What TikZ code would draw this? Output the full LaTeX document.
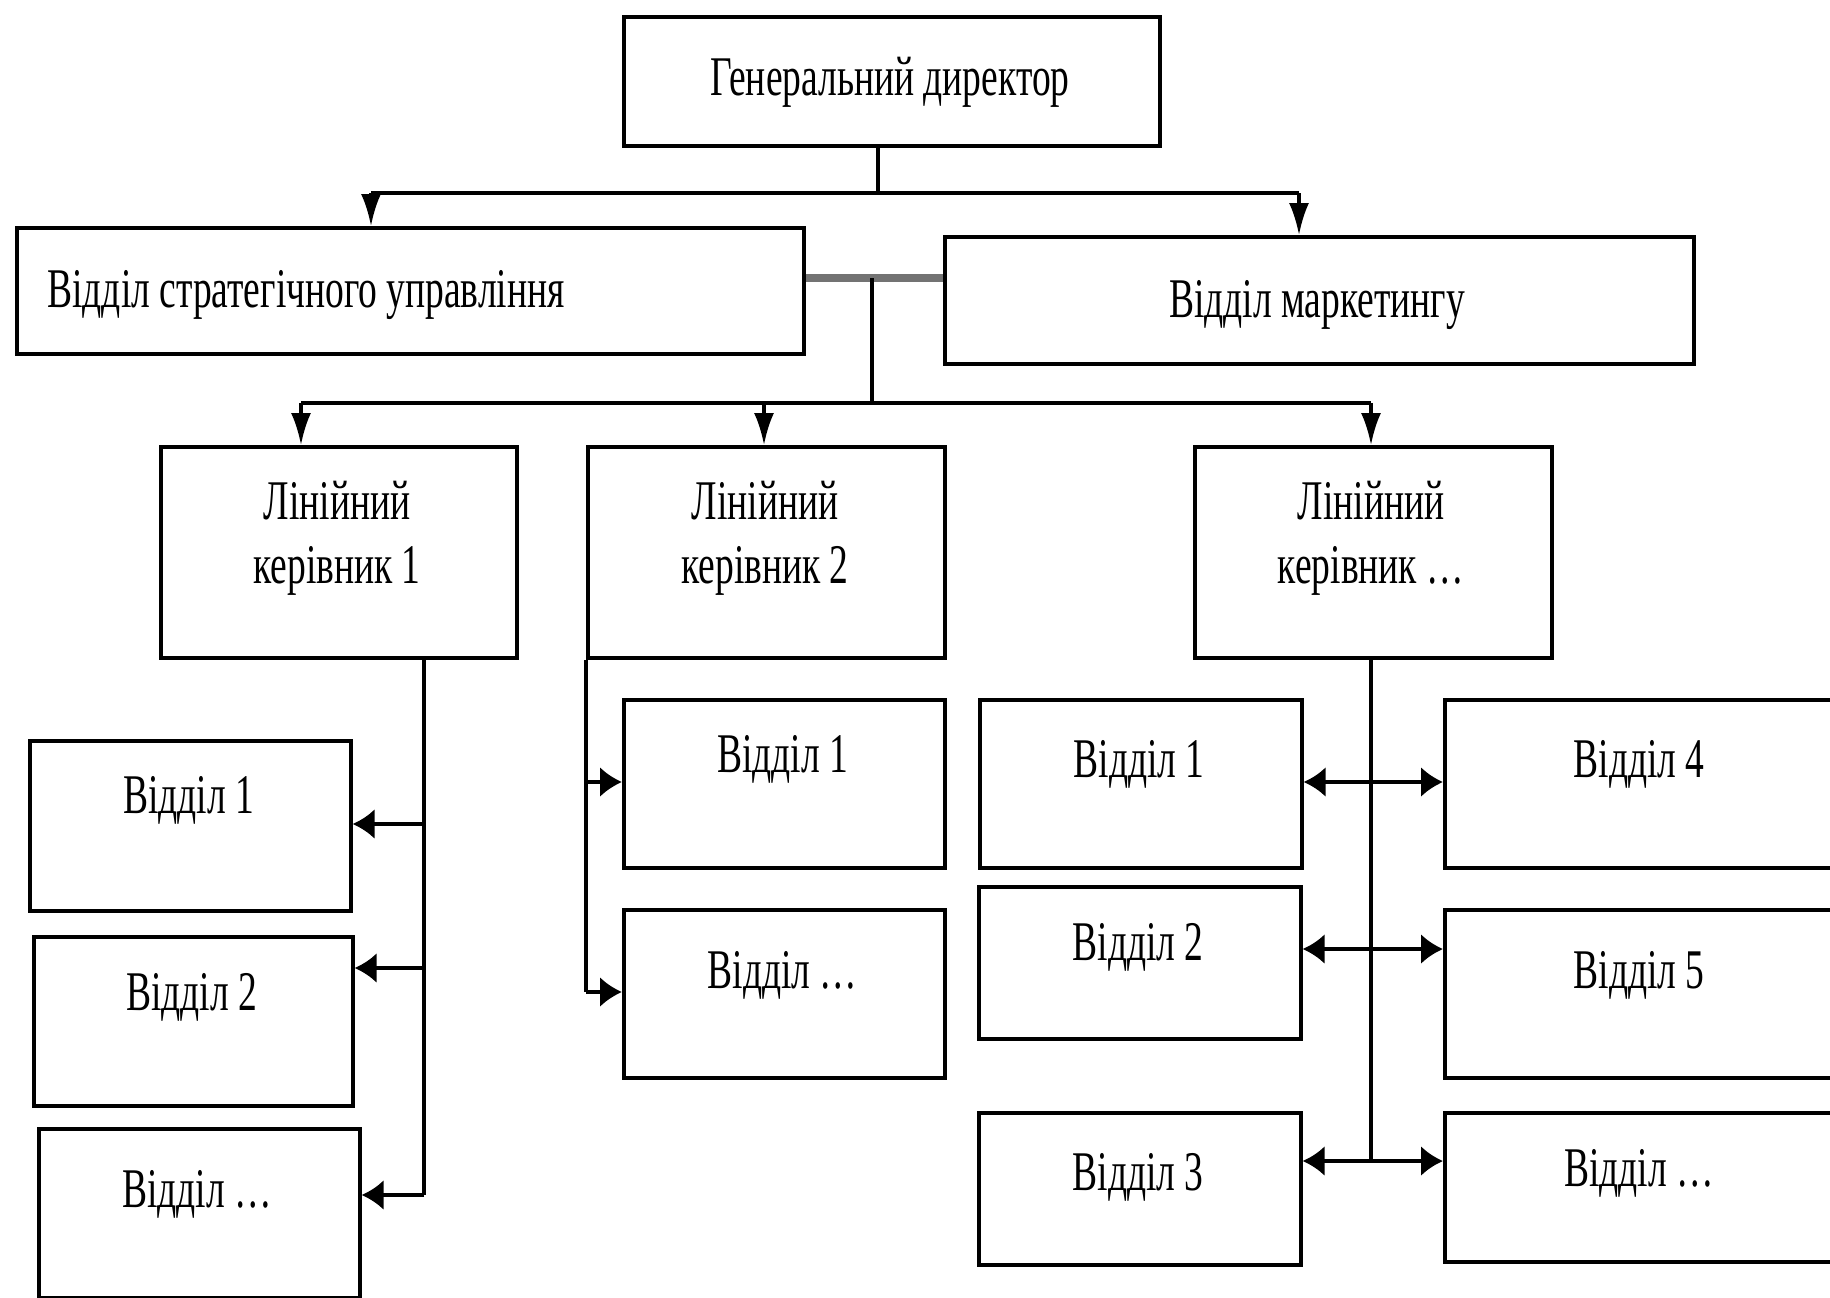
\documentclass[tikz,border=0pt]{standalone}
\usepackage{fontspec}
\setmainfont{Liberation Serif}[FakeStretch=0.67]
\usetikzlibrary{arrows.meta}
\begin{document}
\begin{tikzpicture}[x=0.5pt,y=-0.5pt,
  box/.style={draw=black,line width=1.8pt,fill=white,inner sep=0pt,anchor=north west},
  txt/.style={inner sep=0pt,anchor=base,font=\fontsize{28}{32}\selectfont,align=center},
  conn/.style={draw=black,line width=1.7pt},
  bar/.style={draw=black!55,line width=3.8pt},
  vtip/.tip={Latex[length=16pt,width=10pt]},
  htip/.tip={Latex[length=11pt,width=15pt]}]
\useasboundingbox (0,0) rectangle (1830,1297);
% boxes
\node[box,minimum width=268pt,minimum height=64.5pt] (gd) at (622,15) {};
\node[box,minimum width=393.5pt,minimum height=63pt] (strat) at (15,226) {};
\node[box,minimum width=374.5pt,minimum height=63.5pt] (mark) at (943,235) {};
\node[box,minimum width=178pt,minimum height=105.5pt] (lk1) at (159,445) {};
\node[box,minimum width=178.5pt,minimum height=105.5pt] (lk2) at (586,445) {};
\node[box,minimum width=178.5pt,minimum height=105.5pt] (lk3) at (1193,445) {};
\node[box,minimum width=160.5pt,minimum height=85pt] (a1) at (28,739) {};
\node[box,minimum width=159.5pt,minimum height=84.5pt] (a2) at (32,935) {};
\node[box,minimum width=160.5pt,minimum height=84.5pt] (a3) at (37,1127) {};
\node[box,minimum width=160.5pt,minimum height=84pt] (b1) at (622,698) {};
\node[box,minimum width=160.5pt,minimum height=84pt] (b2) at (622,908) {};
\node[box,minimum width=161pt,minimum height=84pt] (c1) at (978,698) {};
\node[box,minimum width=161pt,minimum height=76pt] (c2) at (977,885) {};
\node[box,minimum width=161pt,minimum height=76pt] (c3) at (977,1111) {};
\node[box,minimum width=196pt,minimum height=84pt] (d1) at (1443,698) {};
\node[box,minimum width=196pt,minimum height=84pt] (d2) at (1443,908) {};
\node[box,minimum width=196pt,minimum height=74.5pt] (d3) at (1443,1111) {};
% texts
\node[txt] (tgd) at (890,95) {Генеральний директор};
\node[txt,anchor=base west] (tstrat) at (47,307) {Відділ стратегічного управління};
\node[txt] (tmark) at (1317,317) {Відділ маркетингу};
\node[txt] (tlk1) at (337,583) {Лінійний\\керівник 1};
\node[txt] (tlk2) at (765,583) {Лінійний\\керівник 2};
\node[txt] (tlk3) at (1371,583) {Лінійний\\керівник …};
\node[txt] (ta1) at (188.5,813) {Відділ 1};
\node[txt] (ta2) at (191.5,1010) {Відділ 2};
\node[txt] (ta3) at (197,1207) {Відділ …};
\node[txt] (tb1) at (782.5,772) {Відділ 1};
\node[txt] (tb2) at (782.5,988) {Відділ …};
\node[txt] (tc1) at (1139,777) {Відділ 1};
\node[txt] (tc2) at (1138,960) {Відділ 2};
\node[txt] (tc3) at (1138,1190) {Відділ 3};
\node[txt] (td1) at (1639,777) {Відділ 4};
\node[txt] (td2) at (1639,988) {Відділ 5};
\node[txt] (td3) at (1639,1186) {Відділ …};
% junction coordinates
\coordinate (j1) at (878,193);
\coordinate (sA) at (371,193);
\coordinate (mA) at (1299,193);
\coordinate (bj) at (872,278);
\coordinate (j2) at (872,403);
\coordinate (l1) at (301,403);
\coordinate (l2) at (764,403);
\coordinate (l3) at (1371,403);
\coordinate (t11) at (424,824);
\coordinate (t12) at (424,968);
\coordinate (k1) at (424,1195);
\coordinate (t21) at (586,782);
\coordinate (k2) at (586,992);
\coordinate (t31) at (1371,782);
\coordinate (t32) at (1371,949);
\coordinate (k3) at (1371,1161);
% top level
\draw[conn] (j1 |- gd.south) -- (j1);
\draw[conn] (sA) -- (mA);
\draw[conn,-vtip] (sA) -- (sA |- strat.north);
\draw[conn,-vtip] (mA) -- (mA |- mark.north);
% staff link
\draw[bar] (bj -| strat.east) -- (bj -| mark.west);
\draw[conn] (bj) -- (j2);
\draw[conn] (l1) -- (l3);
\draw[conn,-vtip] (l1) -- (l1 |- lk1.north);
\draw[conn,-vtip] (l2) -- (l2 |- lk2.north);
\draw[conn,-vtip] (l3) -- (l3 |- lk3.north);
% line manager 1
\draw[conn] (k1 |- lk1.south) -- (k1);
\draw[conn,-htip] (t11) -- (t11 -| a1.east);
\draw[conn,-htip] (t12) -- (t12 -| a2.east);
\draw[conn,-htip] (k1) -- (k1 -| a3.east);
% line manager 2
\draw[conn] (k2 |- lk2.south) -- (k2);
\draw[conn,-htip] (t21) -- (t21 -| b1.west);
\draw[conn,-htip] (k2) -- (k2 -| b2.west);
% line manager 3
\draw[conn] (k3 |- lk3.south) -- (k3);
\draw[conn,htip-htip] (t31 -| c1.east) -- (t31 -| d1.west);
\draw[conn,htip-htip] (t32 -| c2.east) -- (t32 -| d2.west);
\draw[conn,htip-htip] (k3 -| c3.east) -- (k3 -| d3.west);
\end{tikzpicture}
\end{document}
